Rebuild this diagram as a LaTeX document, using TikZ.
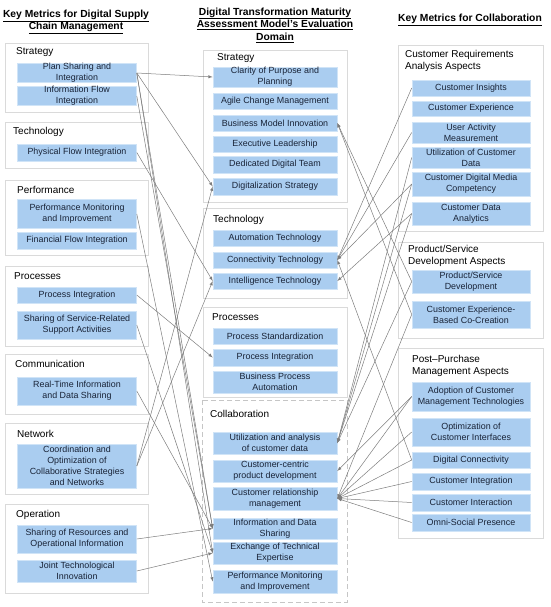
\documentclass[tikz,border=0pt]{standalone}
\usepackage{fontspec}
\setmainfont{Liberation Sans}
\usetikzlibrary{arrows}
\definecolor{boxblue}{RGB}{170,205,240}
\definecolor{txtcol}{RGB}{25,35,55}
\definecolor{grpline}{RGB}{218,218,218}
\definecolor{lncol}{RGB}{125,125,125}
\begin{document}
\begin{tikzpicture}[x=1pt,y=-1pt]
	\tikzset{
		% o chu xanh
		bx/.style={fill=boxblue,draw=boxblue!55!white,line width=.6pt,inner sep=0pt,align=center,
			text=txtcol,font=\fontsize{8.9}{11}\selectfont},
		bxl/.style={bx,minimum width=119},
		bxm/.style={bx,minimum width=124},
		bxr/.style={bx,minimum width=118},
		% khung nhom
		grp/.style={draw=grpline,fill=white,line width=.8pt},
		grpt/.style={anchor=west,inner sep=0pt,align=left,text=black,font=\fontsize{10}{12}\selectfont},
		ttl/.style={align=center,inner sep=0pt,font=\fontsize{10.3}{12.6}\selectfont\bfseries},
		% duong noi
		ln/.style={draw=lncol,line width=.5pt,-latex},
	}
	\useasboundingbox (0,0) rectangle (550,607);
	%
	\node[ttl] (t1) at (76,22) {\underline{Key Metrics for Digital Supply}\\\underline{Chain Management}};
	\node[ttl] (t2) at (275,25) {\underline{Digital Transformation Maturity}\\\underline{Assessment Model’s Evaluation}\\\underline{Domain}};
	\node[ttl] (t3) at (470,20) {\underline{Key Metrics for Collaboration}};
	%
	% cot trai
	\draw[grp] (5,43) rectangle (148,112) (5,122) rectangle (148,168) (5,180) rectangle (148,255)
	(5,266) rectangle (148,346) (5,354) rectangle (148,414) (5,423) rectangle (148,494) (5,504) rectangle (148,593);
	\node[grpt] at (16,52) {Strategy};
	\node[grpt] at (13,132) {Technology};
	\node[grpt] at (17,190) {Performance};
	\node[grpt] at (14,276) {Processes};
	\node[grpt] at (15,364) {Communication};
	\node[grpt] at (17,434) {Network};
	\node[grpt] at (16,515) {Operation};
	%
	\node[bxl,minimum height=18] (pl) at (77,73) {Plan Sharing and\\Integration};
	\node[bxl,minimum height=18] (inf) at (77,96) {Information Flow\\Integration};
	\node[bxl,minimum height=17] (phy) at (77,152.5) {Physical Flow Integration};
	\node[bxl,minimum height=29] (pm) at (77,214) {Performance Monitoring\\and Improvement};
	\node[bxl,minimum height=17] (ff) at (77,240.5) {Financial Flow Integration};
	\node[bxl,minimum height=16] (pi) at (77,295) {Process Integration};
	\node[bxl,minimum height=28] (ss) at (77,325) {Sharing of Service-Related\\Support Activities};
	\node[bxl,minimum height=28] (rt) at (77,391) {Real-Time Information\\and Data Sharing};
	\node[bxl,minimum height=44] (co) at (77,466) {Coordination and\\Optimization of\\Collaborative Strategies\\and Networks};
	\node[bxl,minimum height=28] (sr) at (77,539) {Sharing of Resources and\\Operational Information};
	\node[bxl,minimum height=22] (jt) at (77,571) {Joint Technological\\Innovation};
	%
	% cot giua
	\draw[grp] (203,50) rectangle (347,202) (203,208) rectangle (347,298) (203,307) rectangle (347,397);
	\draw[grp,dashed,dash pattern=on 5pt off 3pt,draw=gray!45] (202,400) rectangle (347,602);
	\node[grpt] at (217,58) {Strategy};
	\node[grpt] at (213,220) {Technology};
	\node[grpt] at (212,317) {Processes};
	\node[grpt] at (210,414) {Collaboration};
	%
	\node[bxm,minimum height=20] (cl) at (275,77) {Clarity of Purpose and\\Planning};
	\node[bxm,minimum height=16] (ag) at (275,101) {Agile Change Management};
	\node[bxm,minimum height=16] (bm) at (275,123) {Business Model Innovation};
	\node[bxm,minimum height=16] (el) at (275,144) {Executive Leadership};
	\node[bxm,minimum height=17] (dd) at (275,164.5) {Dedicated Digital Team};
	\node[bxm,minimum height=17] (ds) at (275,186.5) {Digitalization Strategy};
	\node[bxm,minimum height=16] (at) at (275,238) {Automation Technology};
	\node[bxm,minimum height=16] (ct) at (275,260) {Connectivity Technology};
	\node[bxm,minimum height=16] (it) at (275,281) {Intelligence Technology};
	\node[bxm,minimum height=16] (ps) at (275,336) {Process Standardization};
	\node[bxm,minimum height=17] (cpi) at (275,357.5) {Process Integration};
	\node[bxm,minimum height=22] (bpa) at (275,382) {Business Process\\Automation};
	\node[bxm,minimum height=22] (ua) at (275,443) {Utilization and analysis\\of customer data};
	\node[bxm,minimum height=22] (cc) at (275,471) {Customer-centric\\product development};
	\node[bxm,minimum height=23] (crm) at (275,498.5) {Customer relationship\\management};
	\node[bxm,minimum height=21] (ids) at (275,528.5) {Information and Data\\Sharing};
	\node[bxm,minimum height=22] (ete) at (275,553) {Exchange of Technical\\Expertise};
	\node[bxm,minimum height=23] (cpm) at (275,581.5) {Performance Monitoring\\and Improvement};
	%
	% cot phai
	\draw[grp] (398,45) rectangle (543,231) (398,242) rectangle (543,338) (398,348) rectangle (543,538);
	\node[grpt] at (405,61) {Customer Requirements\\Analysis Aspects};
	\node[grpt] at (408,256) {Product/Service\\Development Aspects};
	\node[grpt] at (412,366) {Post–Purchase\\Management Aspects};
	%
	\node[bxr,minimum height=16] (ci) at (471,88) {Customer Insights};
	\node[bxr,minimum height=15] (ce) at (471,108.5) {Customer Experience};
	\node[bxr,minimum height=21] (uam) at (471,132.5) {User Activity\\Measurement};
	\node[bxr,minimum height=21] (ucd) at (471,157.5) {Utilization of Customer\\Data};
	\node[bxr,minimum height=24] (cdm) at (471,184) {Customer Digital Media\\Competency};
	\node[bxr,minimum height=23] (cda) at (471,213.5) {Customer Data\\Analytics};
	\node[bxr,minimum height=23] (psd) at (471,281.5) {Product/Service\\Development};
	\node[bxr,minimum height=27] (cbc) at (471,314.5) {Customer Experience-\\Based Co-Creation};
	\node[bxr,minimum height=29] (acm) at (471,396.5) {Adoption of Customer\\Management Technologies};
	\node[bxr,minimum height=28] (oci) at (471,432) {Optimization of\\Customer Interfaces};
	\node[bxr,minimum height=16] (dc) at (471,460) {Digital Connectivity};
	\node[bxr,minimum height=17] (cin) at (471,481.5) {Customer Integration};
	\node[bxr,minimum height=17] (cia) at (471,502.5) {Customer Interaction};
	\node[bxr,minimum height=17] (osp) at (471,522.5) {Omni-Social Presence};
	%
	% noi trai -> giua
	\draw[ln] (pl.east)--(cl.west);
	\draw[ln] (pl.east)--(ds.west);
	\draw[ln] (pl.east)--(ids.west);
	\draw[ln] (pl.east)--(ete.west);
	\draw[ln] (inf.east)--(ids.west);
	\draw[ln] (phy.east)--(it.west);
	\draw[ln] (pm.east)--(cpm.west);
	\draw[ln] (pi.east)--(cpi.west);
	\draw[ln] (ss.east)--(ete.west);
	\draw[ln] (rt.east)--(ids.west);
	\draw[ln] (co.east)--(ds.west);
	\draw[ln] (co.east)--(it.west);
	\draw[ln] (sr.east)--(ids.west);
	\draw[ln] (jt.east)--(ete.west);
	%
	% noi phai -> giua
	\draw[ln] (ci.west)--(ct.east);
	\draw[ln] (uam.west)--(ct.east);
	\draw[ln] (cdm.west)--(ct.east);
	\draw[ln] (ucd.west)--(ua.east);
	\draw[ln] (cdm.west)--(ua.east);
	\draw[ln] (cda.west)--(it.east);
	\draw[ln] (cda.west)--(ua.east);
	\draw[ln] (psd.west)--(bm.east);
	\draw[ln] (psd.west)--(ua.east);
	\draw[ln] (cbc.west)--(bm.east);
	\draw[ln] (cbc.west)--(crm.east);
	\draw[ln] (acm.west)--(cc.east);
	\draw[ln] (acm.west)--(crm.east);
	\draw[ln] (oci.west)--(crm.east);
	\draw[ln] (dc.west)--(ct.east);
	\draw[ln] (dc.west)--(crm.east);
	\draw[ln] (cin.west)--(crm.east);
	\draw[ln] (cia.west)--(crm.east);
	\draw[ln] (osp.west)--(crm.east);
\end{tikzpicture}
\end{document}
